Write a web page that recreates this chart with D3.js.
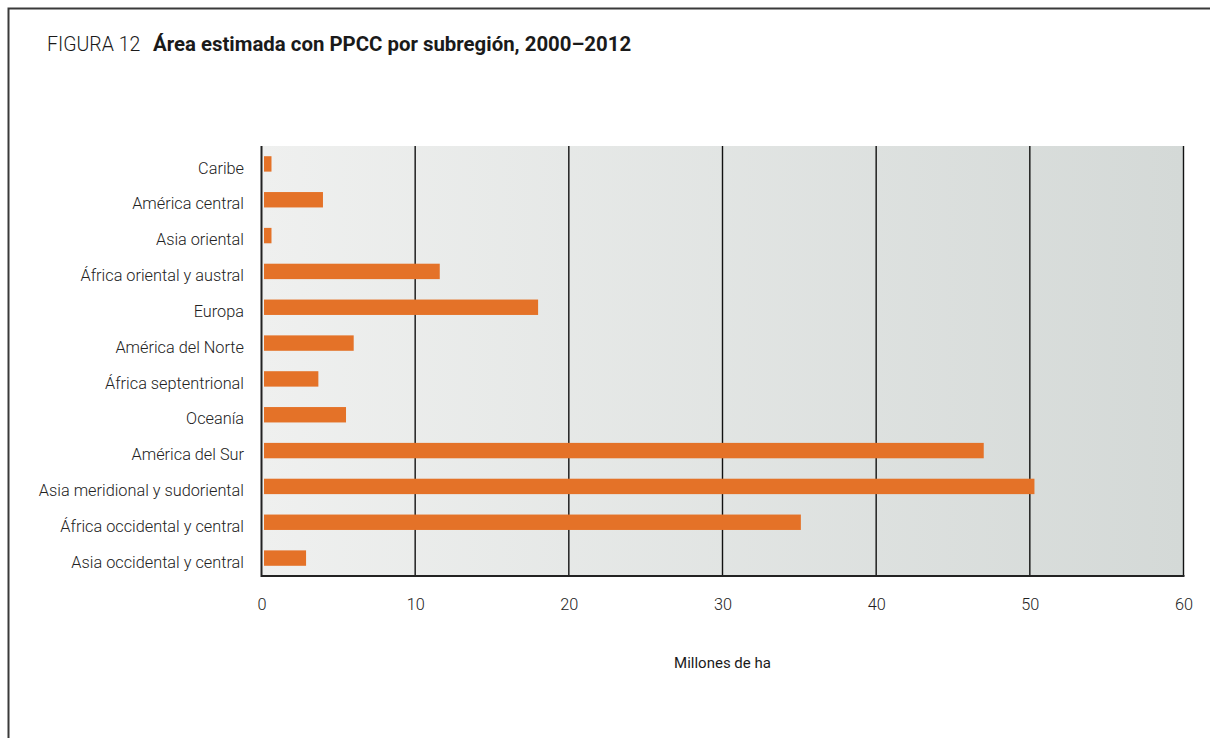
<!DOCTYPE html>
<html><head><meta charset="utf-8">
<script src="https://cdn.jsdelivr.net/npm/d3@7"></script>
<style>
html,body{margin:0;padding:0;background:#fff;}
svg{display:block;}
</style></head>
<body>
<script>
const categories = ["Caribe","América central","Asia oriental","África oriental y austral","Europa","América del Norte","África septentrional","Oceanía","América del Sur","Asia meridional y sudoriental","África occidental y central","Asia occidental y central"];
const values = [0.65, 4.0, 0.65, 11.6, 18.0, 6.0, 3.7, 5.5, 47.0, 50.3, 35.1, 2.9];
const xTicks = [0,10,20,30,40,50,60];
const titlePrefix = "FIGURA 12";
const titleText = "Área estimada con PPCC por subregión, 2000–2012";
const xTitle = "Millones de ha";

const W = 1210, H = 738;
const m = {left:261.5, right:1183.5, top:146, bottom:576};
const FONT = "Roboto, 'Liberation Sans', sans-serif";
const svg = d3.select("body").append("svg").attr("width",W).attr("height",H);

const defs = svg.append("defs");
const grad = defs.append("linearGradient").attr("id","bg").attr("x1","0").attr("x2","1").attr("y1","0").attr("y2","0");
grad.append("stop").attr("offset","0").attr("stop-color","#eff0ef");
grad.append("stop").attr("offset","1").attr("stop-color","#d4d9d7");

// frame
svg.append("path").attr("d",`M8.5,${H} V8.5 H${W}`).attr("fill","none").attr("stroke","#3a3a3a").attr("stroke-width",2);

// title
const t = svg.append("text").attr("x",47).attr("y",51).attr("font-family",FONT).attr("fill","#1a1a1a");
t.append("tspan").attr("font-weight",300).attr("font-size",19.5).text(titlePrefix);
t.append("tspan").attr("x",153).attr("font-weight",700).attr("font-size",20.4).text(titleText);

const x = d3.scaleLinear().domain([0,60]).range([m.left,m.right]);
const y = d3.scaleBand().domain(categories).range([m.top,m.bottom]).paddingInner(0.57).paddingOuter(0.285);

svg.append("rect").attr("x",x(0)).attr("y",m.top).attr("width",x(60)-x(0)).attr("height",m.bottom-m.top).attr("fill","url(#bg)");

// gridlines
svg.append("g").selectAll("line").data(xTicks.filter(d=>d>0)).join("line")
  .attr("x1",d=>x(d)).attr("x2",d=>x(d)).attr("y1",m.top).attr("y2",m.bottom)
  .attr("stroke","#111").attr("stroke-width",1.4);

// bars
svg.append("g").selectAll("rect").data(categories).join("rect")
  .attr("x",x(0)+2.5).attr("y",d=>y(d)).attr("height",y.bandwidth())
  .attr("width",(d,i)=>x(values[i])-x(0)-2.5)
  .attr("fill","#e47228");

// axis lines
svg.append("path").attr("d",`M${x(0)},${m.top} V${m.bottom} H${x(60)+1}`).attr("fill","none").attr("stroke","#222").attr("stroke-width",2);

// y labels
const yAxis = d3.axisLeft(y).tickSize(0).tickPadding(17.5);
const gy = svg.append("g").attr("transform",`translate(${x(0)},4.5)`).call(yAxis);
gy.select(".domain").remove();
gy.selectAll("text").attr("font-family",FONT).attr("font-weight",300).attr("font-size",16.3).attr("fill","#222");

// x labels
const xAxis = d3.axisBottom(x).tickValues(xTicks).tickSize(0).tickPadding(22).tickFormat(d3.format("d"));
const gx = svg.append("g").attr("transform",`translate(0,${m.bottom})`).call(xAxis);
gx.select(".domain").remove();
gx.selectAll("text").attr("font-family",FONT).attr("font-weight",300).attr("font-size",16.3).attr("fill","#222");

svg.append("text").attr("x",(m.left+m.right)/2).attr("y",668).attr("text-anchor","middle")
  .attr("font-family",FONT).attr("font-weight",400).attr("font-size",15).attr("fill","#1a1a1a").text(xTitle);
</script>
</body></html>
